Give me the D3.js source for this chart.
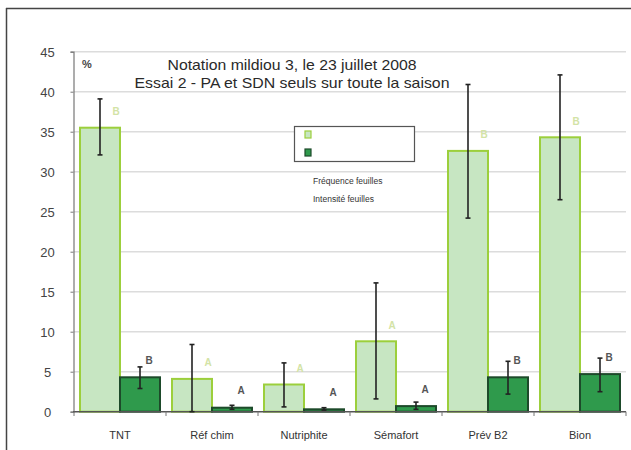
<!DOCTYPE html>
<html><head><meta charset="utf-8">
<script src="https://cdn.jsdelivr.net/npm/d3@7"></script>
<style>body{margin:0;background:#fff}svg{display:block;font-family:"Liberation Sans",Arial,sans-serif}</style>
</head><body><svg id="c" width="631" height="450"></svg>
<script>
const categories = ["TNT","Réf chim","Nutriphite","Sémafort","Prév B2","Bion"];
const seriesNames = ["Fréquence feuilles","Intensité feuilles"];
const freqValues = [35.5, 4.1, 3.4, 8.8, 32.6, 34.3];
const freqErrLow = [32.1, 0.0, 0.6, 1.6, 24.2, 26.5];
const freqErrHigh = [39.1, 8.4, 6.1, 16.1, 40.9, 42.1];
const freqLetters = ["B","A","A","A","B","B"];
const intValues = [4.3, 0.5, 0.3, 0.7, 4.3, 4.7];
const intErrLow = [2.9, 0.3, 0.2, 0.3, 2.2, 2.5];
const intErrHigh = [5.6, 0.8, 0.5, 1.2, 6.3, 6.7];
const intLetters = ["B","A","A","A","B","B"];
const yTicks = [0,5,10,15,20,25,30,35,40,45];
const titleLines = ["Notation mildiou 3, le 23 juillet 2008","Essai 2 - PA et SDN seuls sur toute la saison"];
const unitLabel = "%";

const svg = d3.select("#c");
svg.append("line").attr("x1",6).attr("x2",631).attr("y1",8.5).attr("y2",8.5).attr("stroke","#444").attr("stroke-width",1.5);
svg.append("line").attr("x1",6.5).attr("x2",6.5).attr("y1",8).attr("y2",450).attr("stroke","#444").attr("stroke-width",1.5);

const x = d3.scaleBand().domain(categories).range([74,626]);
const xs = d3.scaleBand().domain(["f","i"]).range([6,86]);
const y = d3.scaleLinear().domain([0,45]).range([411.7,51.7]);

svg.append("g").selectAll("line").data(yTicks.filter(d=>d>0)).join("line")
  .attr("x1",74).attr("x2",626).attr("y1",d=>y(d)).attr("y2",d=>y(d))
  .attr("stroke","#dcdcdc").attr("stroke-width",1.5);

const ya = svg.append("g").attr("transform","translate(73.5,0)")
  .call(d3.axisLeft(y).tickValues(yTicks).tickSize(3).tickPadding(0));
ya.select(".domain").attr("stroke","#777").attr("stroke-width",1.2);
ya.selectAll(".tick line").attr("stroke","#777");
ya.selectAll(".tick text").attr("x",-26).attr("text-anchor","middle").attr("dy","0.35em")
  .attr("font-size",13).attr("fill","#444");

const data = categories.map((c,i)=>({c,i}));
const g = svg.append("g");
g.selectAll("rect.f").data(data).join("rect").attr("class","f")
  .attr("x",d=>x(d.c)+xs("f")).attr("width",xs.bandwidth())
  .attr("y",d=>y(freqValues[d.i])).attr("height",d=>y(0)-y(freqValues[d.i]))
  .attr("fill","#c7e6c2").attr("stroke","#9ccf3c").attr("stroke-width",2);
g.selectAll("rect.i").data(data).join("rect").attr("class","i")
  .attr("x",d=>x(d.c)+xs("i")).attr("width",xs.bandwidth())
  .attr("y",d=>y(intValues[d.i])).attr("height",d=>y(0)-y(intValues[d.i]))
  .attr("fill","#2f9a4c").attr("stroke","#1d4a2a").attr("stroke-width",2);

const xa = svg.append("g").attr("transform","translate(0,411.7)")
  .call(d3.axisBottom(x).tickSize(0).tickPadding(20));
xa.select(".domain").attr("stroke","#555").attr("stroke-width",1.5).attr("d","M73,0H626");
xa.selectAll(".tick text").attr("font-size",11).attr("fill","#333");
svg.append("g").selectAll("line").data(categories.concat(["_end"])).join("line")
  .attr("x1",(d,i)=>i<categories.length?x(d):x.range()[1]).attr("x2",(d,i)=>i<categories.length?x(d):x.range()[1])
  .attr("y1",411.7).attr("y2",416).attr("stroke","#777").attr("stroke-width",1);

function errBars(cls, key, lo, hi){
  const cx = d=>x(d.c)+xs(key)+xs.bandwidth()/2;
  const eg = svg.append("g").attr("stroke","#222").attr("stroke-width",1.6);
  eg.selectAll("line.v"+cls).data(data).join("line")
    .attr("x1",cx).attr("x2",cx).attr("y1",d=>y(lo[d.i])).attr("y2",d=>y(hi[d.i]));
  eg.selectAll("line.t"+cls).data(data).join("line")
    .attr("x1",d=>cx(d)-2.5).attr("x2",d=>cx(d)+2.5).attr("y1",d=>y(hi[d.i])).attr("y2",d=>y(hi[d.i]));
  eg.selectAll("line.b"+cls).data(data).join("line")
    .attr("x1",d=>cx(d)-2.5).attr("x2",d=>cx(d)+2.5).attr("y1",d=>y(lo[d.i])).attr("y2",d=>y(lo[d.i]));
}
errBars("f","f",freqErrLow,freqErrHigh);
errBars("i","i",intErrLow,intErrHigh);

svg.append("g").selectAll("text").data(data).join("text")
  .attr("x",d=>x(d.c)+xs("f")+xs.bandwidth()/2+16).attr("y",d=>y(freqValues[d.i])-16)
  .attr("dy","0.35em").attr("text-anchor","middle").attr("font-size",10).attr("font-weight","bold")
  .attr("fill","#d3e3a6").text(d=>freqLetters[d.i]);
svg.append("g").selectAll("text").data(data).join("text")
  .attr("x",d=>x(d.c)+xs("i")+xs.bandwidth()/2+9).attr("y",d=>y(intValues[d.i])-17)
  .attr("dy","0.35em").attr("text-anchor","middle").attr("font-size",10).attr("font-weight","bold")
  .attr("fill","#555").text(d=>intLetters[d.i]);

const titleWidths = [249, 315];
svg.append("g").selectAll("text").data(titleLines).join("text")
  .attr("x",292).attr("y",(d,i)=>65+i*17.5).attr("dy","0.35em").attr("text-anchor","middle")
  .attr("font-size",14.5).attr("fill","#2a2a2a")
  .attr("textLength",(d,i)=>titleWidths[i]).attr("lengthAdjust","spacingAndGlyphs").text(d=>d);
svg.append("text").attr("x",82).attr("y",64).attr("dy","0.35em").attr("font-size",11)
  .attr("font-weight","bold").attr("fill","#444").text(unitLabel);

svg.append("rect").attr("x",294.5).attr("y",126.5).attr("width",120).attr("height",35)
  .attr("fill","#fff").attr("stroke","#555").attr("stroke-width",1.2);
const legColors = [["#c7e6c2","#9ccf3c"],["#2f9a4c","#1d4a2a"]];
svg.append("g").selectAll("rect").data(seriesNames).join("rect")
  .attr("x",305).attr("y",(d,i)=>131+i*18).attr("width",6).attr("height",7)
  .attr("fill",(d,i)=>legColors[i][0]).attr("stroke",(d,i)=>legColors[i][1]).attr("stroke-width",1.2);
svg.append("g").selectAll("text").data(seriesNames).join("text")
  .attr("x",313).attr("y",(d,i)=>181+i*18).attr("dy","0.35em").attr("font-size",8.5)
  .attr("fill","#333").text(d=>d);
</script></body></html>
